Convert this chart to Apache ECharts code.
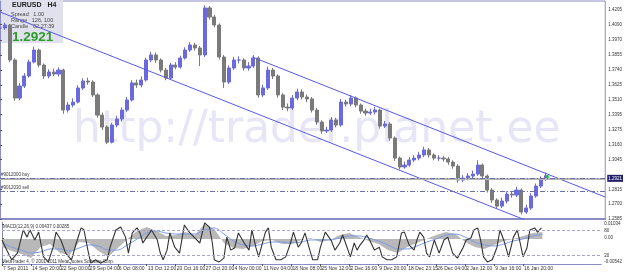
<!DOCTYPE html>
<html><head><meta charset="utf-8">
<script src="https://cdn.jsdelivr.net/npm/echarts@6/dist/echarts.min.js"></script>
<style>html,body{margin:0;padding:0;background:#fff}#c{width:625px;height:273px}</style>
</head><body><div id="c"></div>
<script>
// ---------- data ----------
const timeLabels = ['7 Sep 2011','14 Sep 20:00','22 Sep 00:00','29 Sep 04:00','6 Oct 08:00','13 Oct 12:00','20 Oct 16:00','27 Oct 20:00','4 Nov 00:00','11 Nov 04:00','18 Nov 08:00','25 Nov 12:00','2 Dec 16:00','9 Dec 20:00','18 Dec 23:15','26 Dec 04:00','2 Jan 12:00','9 Jan 16:00','16 Jan 20:00'];
const barsPerLabel = 30;      // H4 bars between time labels
const totalBars = 621;        // bars visible across the chart
const priceStep = 5;          // H4 bars per sample

const closes = [
1.4065,1.4088,1.3817,1.3522,1.3615,1.3693,1.3801,1.3894,1.3778,1.3693,
1.3724,1.3708,1.3739,1.3429,1.3468,1.3491,1.3600,1.3654,1.3646,1.3546,
1.3390,1.3297,1.3180,1.3313,1.3360,1.3429,1.3507,1.3639,1.3623,1.3662,
1.3817,1.3856,1.3817,1.3739,1.3677,1.3778,1.3762,1.3832,1.3894,1.3933,
1.3910,1.3856,1.4220,1.4150,1.4088,1.3840,1.3646,1.3755,1.3817,1.3817,
1.3755,1.3770,1.3832,1.3546,1.3600,1.3739,1.3693,1.3546,1.3452,1.3445,
1.3522,1.3569,1.3530,1.3515,1.3429,1.3336,1.3267,1.3274,1.3352,1.3313,
1.3491,1.3476,1.3522,1.3468,1.3421,1.3406,1.3414,1.3429,1.3305,1.3321,
1.3212,1.3057,1.2988,1.3003,1.3042,1.3057,1.3081,1.3120,1.3081,1.3057,
1.3057,1.3050,1.3026,1.2995,1.2887,1.2902,1.2918,1.2933,1.3003,1.2918,
1.2809,1.2732,1.2685,1.2724,1.2778,1.2771,1.2809,1.2639,1.2670,1.2763,
1.2840,1.2895,1.2921];
const highs = [
1.4110,1.4105,1.4095,1.3830,1.3640,1.3715,1.3820,1.3920,1.3905,1.3790,
1.3745,1.3750,1.3760,1.3750,1.3490,1.3520,1.3620,1.3675,1.3680,1.3660,
1.3560,1.3410,1.3310,1.3330,1.3385,1.3450,1.3530,1.3660,1.3665,1.3690,
1.3835,1.3880,1.3875,1.3830,1.3755,1.3795,1.3800,1.3850,1.3915,1.3955,
1.3950,1.3925,1.4240,1.4235,1.4165,1.4100,1.3855,1.3775,1.3840,1.3845,
1.3830,1.3800,1.3855,1.3845,1.3625,1.3765,1.3755,1.3705,1.3560,1.3480,
1.3545,1.3595,1.3590,1.3550,1.3530,1.3445,1.3350,1.3300,1.3375,1.3370,
1.3515,1.3510,1.3545,1.3535,1.3480,1.3440,1.3440,1.3455,1.3440,1.3345,
1.3335,1.3225,1.3070,1.3030,1.3065,1.3080,1.3105,1.3145,1.3135,1.3095,
1.3080,1.3075,1.3065,1.3040,1.3010,1.2925,1.2940,1.2960,1.3040,1.3015,
1.2930,1.2825,1.2745,1.2750,1.2800,1.2800,1.2835,1.2820,1.2695,1.2785,
1.2860,1.2915,1.2945];
const lows = [
1.4030,1.4050,1.3800,1.3500,1.3505,1.3600,1.3680,1.3790,1.3760,1.3670,
1.3675,1.3690,1.3690,1.3400,1.3410,1.3450,1.3480,1.3585,1.3625,1.3530,
1.3370,1.3275,1.3165,1.3170,1.3295,1.3340,1.3415,1.3495,1.3600,1.3605,
1.3650,1.3800,1.3795,1.3720,1.3660,1.3665,1.3745,1.3750,1.3820,1.3880,
1.3890,1.3770,1.3840,1.4130,1.4070,1.3820,1.3600,1.3630,1.3740,1.3790,
1.3735,1.3735,1.3755,1.3525,1.3530,1.3585,1.3670,1.3525,1.3430,1.3420,
1.3430,1.3505,1.3510,1.3490,1.3410,1.3315,1.3245,1.3250,1.3260,1.3295,
1.3300,1.3455,1.3460,1.3450,1.3400,1.3385,1.3390,1.3395,1.3285,1.3290,
1.3190,1.3035,1.2970,1.2975,1.2990,1.3025,1.3040,1.3065,1.3060,1.3040,
1.3035,1.3030,1.3005,1.2975,1.2865,1.2870,1.2885,1.2900,1.2920,1.2895,
1.2790,1.2710,1.2665,1.2670,1.2705,1.2750,1.2755,1.2620,1.2625,1.2655,
1.2750,1.2825,1.2880];

const priceTicks = [1.4205,1.4090,1.3970,1.3855,1.3740,1.3625,1.3510,1.3395,1.3275,1.3160,1.3045,1.2815,1.2700,1.2585];
const priceMin = 1.2585, priceMax = 1.4274;

const trendUpper = [[259,1.3840],[621,1.2755]];
const trendLower = [[0,1.4189],[539,1.2577]];
const bidPrice = 1.2921;
const orderLevels = [1.2887, 1.2848];
const orderLabels = ['#9012000 buy','#9012030 sell'];
const lastMark = [[562,1.2913]];

const macdStep = 10;
const macdHist = [-0.0050,-0.0075,-0.0094,-0.0119,-0.0050,-0.0031,-0.0087,-0.0100,-0.0019,-0.0025,
-0.0075,-0.0112,-0.0056,0.0000,0.0050,0.0075,0.0050,0.0019,0.0025,0.0044,
0.0025,0.0094,0.0062,-0.0025,-0.0056,-0.0062,-0.0044,-0.0012,-0.0006,-0.0031,
-0.0031,-0.0006,0.0006,-0.0019,-0.0006,0.0025,0.0037,0.0012,-0.0012,-0.0031,
-0.0069,-0.0087,-0.0050,-0.0025,0.0000,0.0025,0.0044,0.0031,-0.0019,-0.0050,
-0.0062,-0.0037,-0.0012,0.0000,0.0019,0.0037,0.00437];
const macdSignal = [-0.0025,-0.0050,-0.0069,-0.0087,-0.0081,-0.0062,-0.0062,-0.0075,-0.0056,-0.0037,
-0.0044,-0.0069,-0.0069,-0.0037,0.0000,0.0037,0.0050,0.0037,0.0031,0.0031,
0.0031,0.0056,0.0069,0.0031,-0.0012,-0.0037,-0.0044,-0.0031,-0.0019,-0.0019,
-0.0025,-0.0019,-0.0006,-0.0006,-0.0006,0.0006,0.0019,0.0019,0.0006,-0.0012,
-0.0037,-0.0062,-0.0062,-0.0044,-0.0019,0.0000,0.0025,0.0031,0.0012,-0.0019,
-0.0037,-0.0044,-0.0031,-0.0012,0.0000,0.0019,0.00285];

const stochBars = [0,5,10,16,22,26,29,34,38,43,48,53,56,61,66,72,77,82,85,89,92,97,102,109,112,118,123,128,131,135,140,143,146,150,155,161,164,167,171,174,179,184,189,194,199,205,210,215,218,220,225,230,233,237,241,245,251,256,259,263,266,273,276,279,284,289,294,299,302,307,310,314,319,322,327,330,335,341,345,350,353,356,361,365,368,371,375,378,381,386,391,394,399,404,409,414,417,422,427,430,433,437,440,443,448,453,458,462,467,472,478,481,486,489,493,496,499,503,508,513,516,520,525,530,534,537,540,544,547,552,555,559];
const stochValues = [57,33,10,26,81,64,81,57,76,17,5,40,76,57,26,10,50,86,81,33,2,10,2,10,40,81,88,64,26,74,86,74,50,64,81,57,26,10,33,74,40,26,93,76,64,50,98,88,50,10,5,14,64,33,38,74,50,33,81,40,17,76,86,40,10,10,17,50,76,40,50,74,33,10,10,40,76,57,33,50,69,50,17,50,33,45,57,69,57,33,40,17,10,10,17,74,76,45,33,57,76,64,26,17,57,26,57,64,26,14,40,57,62,81,86,57,17,5,10,40,81,57,17,64,81,50,17,38,81,86,76,86];
const stochLevels = [80,20];
const panelTickValues = [95,80,62,20,5];
const panelTickLabels = ['0.01034','80','0.00','20','-0.00542'];

// ---------- build ----------
const ohlc = closes.map((c,i)=>[i*priceStep, i ? closes[i-1] : c, c, lows[i], highs[i]]);
const macdData = macdHist.map((v,i)=>[i*macdStep, v]);
const sigData = macdSignal.map((v,i)=>[i*macdStep, v]);
const stochData = stochBars.map((b,i)=>[b, stochValues[i]]);
const labelPos = timeLabels.map((_,i)=>i*barsPerLabel);
const F = 'Liberation Sans';
const axisCol = '#8c8cc4';

const chart = echarts.init(document.getElementById('c'));
chart.setOption({
  animation:false,
  backgroundColor:'#ffffff',
  grid:[
    {left:0,right:18,top:1,height:218,show:true,borderColor:axisCol,borderWidth:1,backgroundColor:'transparent'},
    {left:0,right:18,top:222,height:42}
  ],
  xAxis:[
    {gridIndex:0,type:'value',min:0,max:totalBars,axisLine:{show:true,onZero:false,lineStyle:{color:axisCol,width:2}},axisTick:{show:false},axisLabel:{show:false},splitLine:{show:false}},
    {gridIndex:1,type:'value',min:0,max:totalBars,
     axisLine:{show:true,onZero:false,lineStyle:{color:axisCol,width:1}},
     axisTick:{show:true,customValues:labelPos,length:2,lineStyle:{color:'#555'}},
     axisLabel:{customValues:labelPos,formatter:v=>timeLabels[Math.round(v/barsPerLabel)]||'',align:'left',padding:[0,0,0,1],fontSize:5,color:'#333',margin:2,fontFamily:F},
     splitLine:{show:false}}
  ],
  yAxis:[
    {gridIndex:0,type:'value',position:'right',min:priceMin,max:priceMax,
     axisLine:{show:true,lineStyle:{color:axisCol}},
     axisTick:{show:true,customValues:priceTicks,length:2,lineStyle:{color:'#555'}},
     axisLabel:{customValues:priceTicks,formatter:v=>v.toFixed(4),fontSize:4.5,color:'#333',margin:3,fontFamily:F},
     splitLine:{show:false}},
    {gridIndex:1,type:'value',position:'right',min:0,max:100,
     axisLine:{show:true,lineStyle:{color:axisCol}},
     axisTick:{show:true,customValues:panelTickValues,length:2,lineStyle:{color:'#555'}},
     axisLabel:{customValues:panelTickValues,formatter:v=>panelTickLabels[panelTickValues.indexOf(v)],fontSize:4.5,color:'#333',margin:3,fontFamily:F},
     splitLine:{show:false}},
    {gridIndex:1,type:'value',min:-0.0156,max:0.0106,show:false,splitLine:{show:false}}
  ],
  graphic:[
    {type:'text',z:0,x:73,y:131,style:{text:'http://trader.planet.ee',font:'44px "DejaVu Sans"',fill:'#e6e6f7',verticalAlign:'middle'}},
    {type:'rect',z:0,shape:{x:0,y:0,width:63,height:43},style:{fill:'#e1e1ee'}},
    {type:'text',z:1,x:12,y:2,style:{text:'EURUSD   H4',font:'bold 7px "Liberation Sans"',fill:'#222'}},
    {type:'text',z:1,x:11,y:11,style:{text:'Spread   1.00',font:'5.5px "Liberation Sans"',fill:'#444'}},
    {type:'text',z:1,x:11,y:17,style:{text:'Range   126, 100',font:'5.5px "Liberation Sans"',fill:'#444'}},
    {type:'text',z:1,x:11,y:23,style:{text:'Candle   02:27:39',font:'5.5px "Liberation Sans"',fill:'#444'}},
    {type:'text',z:1,x:12,y:30,style:{text:'1.2921',font:'bold 13.5px "Liberation Sans"',fill:'#2c9b2c'}},
    {type:'text',z:5,x:3,y:224,style:{text:'MACD(12,26,9) 0.00437 0.00285',font:'4.5px "Liberation Sans"',fill:'#333'}},
    {type:'text',z:5,x:2,y:259,style:{text:'MetaTrader 4, © 2001-2011 MetaQuotes Software Corp.',font:'4.5px "Liberation Sans"',fill:'#333'}}
  ],
  series:[
    {type:'candlestick',xAxisIndex:0,yAxisIndex:0,data:ohlc,encode:{x:0,y:[1,2,3,4]},barWidth:3.6,
     itemStyle:{color:'#6a6ade',color0:'#7a7a7a',borderColor:'#6a6ade',borderColor0:'#7a7a7a',borderWidth:1},
     markLine:{silent:true,symbol:'none',animation:false,data:[
       {yAxis:bidPrice,lineStyle:{color:'#b4b4b4',width:2,type:'solid'},label:{show:true,position:'end',formatter:bidPrice.toFixed(4),backgroundColor:'#1f1f6b',color:'#fff',fontSize:4.5,padding:[1,1],distance:2,fontFamily:F}},
       {yAxis:orderLevels[0],lineStyle:{color:'#6a70a8',width:1,type:[5,2,1,2]},label:{show:true,position:'insideStartTop',formatter:orderLabels[0],fontSize:4.5,color:'#333',distance:1,fontFamily:F}},
       {yAxis:orderLevels[1],lineStyle:{color:'#6a70a8',width:1,type:[5,2,1,2]},label:{show:true,position:'insideStartTop',formatter:orderLabels[1],fontSize:4.5,color:'#333',distance:1,fontFamily:F}}
     ]}},
    {type:'line',xAxisIndex:0,yAxisIndex:0,data:trendUpper,symbol:'none',lineStyle:{color:'#5858e6',width:1},clip:true},
    {type:'line',xAxisIndex:0,yAxisIndex:0,data:trendLower,symbol:'none',lineStyle:{color:'#5858e6',width:1},clip:true},
    {type:'scatter',xAxisIndex:0,yAxisIndex:0,data:lastMark,symbol:'rect',symbolSize:3,itemStyle:{color:'#22cc22'}},
    {type:'line',xAxisIndex:1,yAxisIndex:2,data:macdData,symbol:'none',lineStyle:{width:0},areaStyle:{color:'#b8b8b8',opacity:1}},
    {type:'line',xAxisIndex:1,yAxisIndex:2,data:sigData,symbol:'none',smooth:0.3,lineStyle:{color:'#7c9ce8',width:1}},
    {type:'line',xAxisIndex:1,yAxisIndex:1,data:stochData,symbol:'none',lineStyle:{color:'#333333',width:1.1},
     markLine:{silent:true,symbol:'none',label:{show:false},lineStyle:{color:'#a4a4cc',type:[3,2],width:1},data:stochLevels.map(v=>({yAxis:v}))}}
  ]
});
</script></body></html>
